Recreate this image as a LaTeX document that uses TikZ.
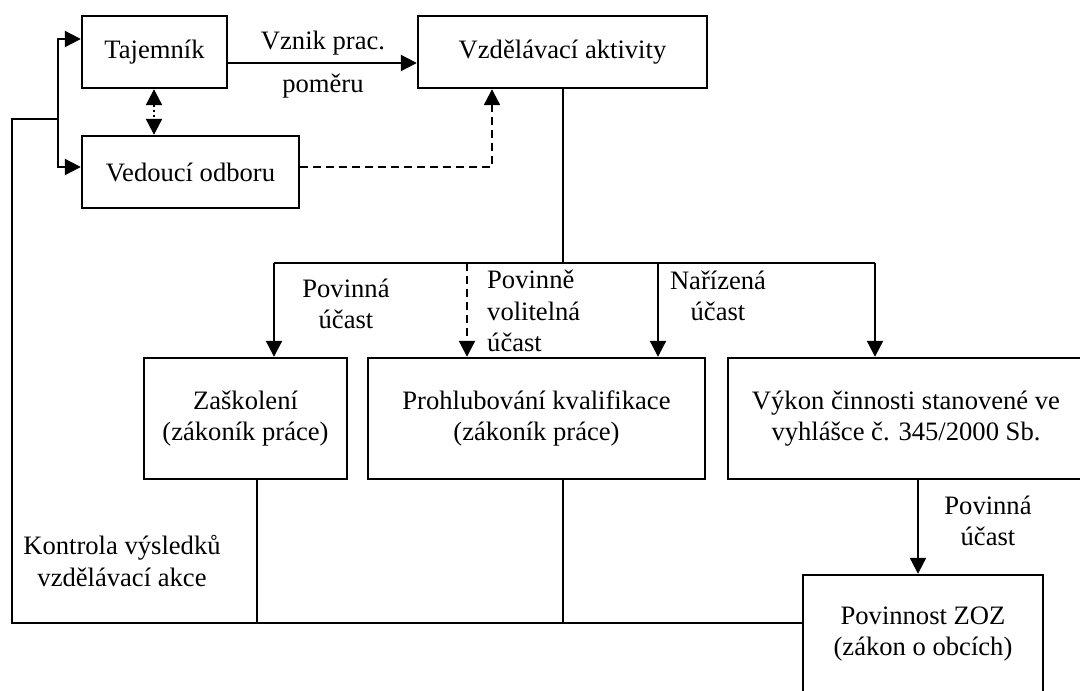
\documentclass[tikz,border=0pt]{standalone}
\usepackage{fontspec}
\setmainfont{Liberation Serif}
\usetikzlibrary{arrows.meta}
\begin{document}
\begin{tikzpicture}[x=1pt,y=-1pt,
  every node/.style={font=\fontsize{26.6}{31.5}\selectfont, inner sep=0pt},
  box/.style={draw, line width=2.4pt, rectangle, align=center},
  lbl/.style={align=center},
  lbll/.style={align=left},
  plain/.style={line width=1.6pt},
  tip/.tip={Triangle[length=16pt,width=16pt]},
  arr/.style={line width=2.2pt, -tip},
  darr/.style={line width=2.2pt, dash pattern=on 8pt off 5pt, -tip},
  dotarr/.style={line width=2.2pt, dash pattern=on 2pt off 3pt, tip-tip}]
\useasboundingbox (0,0) rectangle (1080,691);

% boxes
\node[box, minimum width=145pt, minimum height=72pt] (taj) at (154.5,52) {Tajemník};
\node[box, minimum width=217pt, minimum height=72pt] (ved) at (190.5,172) {Vedoucí odboru};
\node[box, minimum width=289pt, minimum height=72pt] (vzd) at (562.5,52) {Vzdělávací aktivity};
\node[box, minimum width=203pt, minimum height=121pt] (zas) at (245.5,418.5) {Zaškolení\\(zákoník práce)};
\node[box, minimum width=337pt, minimum height=121pt] (pro) at (536.5,418.5) {Prohlubování kvalifikace\\(zákoník práce)};
\node[box, minimum width=356pt, minimum height=121pt] (vyk) at (906,418.5) {Výkon činnosti stanovené ve\\vyhlášce č. 345/2000 Sb.};
\node[box, minimum width=240pt, minimum height=118pt] (zoz) at (923,634) {Povinnost ZOZ\\(zákon o obcích)};

% junction points
\coordinate (kb) at (58,119);
\coordinate (kl) at (12,119);
\coordinate (fb) at (12,623);
\coordinate (br) at (563,263);
\coordinate (bl) at (274,263);
\coordinate (bx) at (875,263);
\coordinate (dv) at (492,167);

% top part
\draw[arr] ([yshift=-11pt]taj.east) -- ([yshift=-11pt]vzd.west);
\draw[arr] (kb) |- ([yshift=13pt]taj.west);
\draw[arr] (kb) |- ([yshift=5pt]ved.west);
\draw[dotarr] (taj.south -| 154,0) -- (ved.north -| 154,0);
\draw[darr] ([yshift=5pt]ved.east) -- (dv) -- (vzd.south -| dv);

% branching to the activities
\draw[plain] (vzd.south -| br) -- (br);
\draw[plain] (bl) -- (bx);
\draw[arr] (bl) -- (zas.north -| bl);
\draw[darr] (467,263) -- (pro.north -| 467,0);
\draw[arr] (658,263) -- (pro.north -| 658,0);
\draw[arr] (bx) -- (vyk.north -| bx);
\draw[arr] (vyk.south -| 918,0) -- (zoz.north -| 918,0);

% feedback loop
\draw[plain] (zas.south -| 257,0) -- (257,623);
\draw[plain] (pro.south -| 563,0) -- (563,623);
\draw[plain] (zoz.west |- fb) -- (fb) -- (kl) -- (kb);

% labels
\node[lbl] (l1) at (323,43) {Vznik prac.};
\node[lbl] (l2) at (323,86) {poměru};
\node[lbl] (l3) at (346,304) {Povinná\\účast};
\node[lbll, anchor=west] (l4) at (487,311) {Povinně\\volitelná\\účast};
\node[lbl] (l5) at (718,296) {Nařízená\\účast};
\node[lbl] (l6) at (988,521) {Povinná\\účast};
\node[lbl] (l7) at (122,561) {Kontrola výsledků\\vzdělávací akce};
\end{tikzpicture}
\end{document}
